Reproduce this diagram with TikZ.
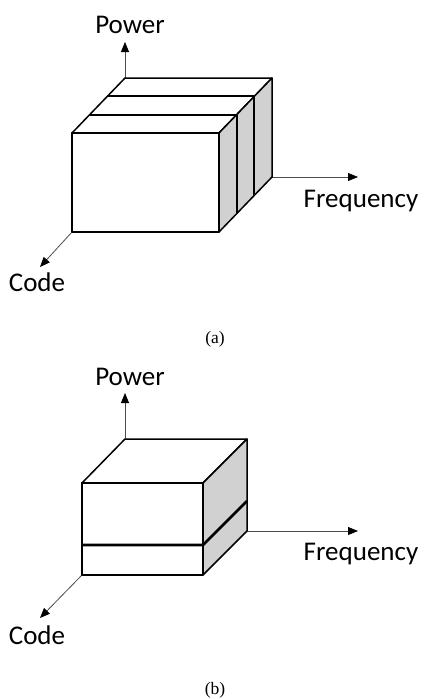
\documentclass[tikz,border=0pt]{standalone}
\usepackage{fontspec}
\setmainfont{Liberation Serif}
\newfontfamily\axisfont{Carlito}
\usetikzlibrary{arrows.meta}
\tikzset{
	edge/.style={line width=1.5pt, line join=round},
	side/.style={edge, fill=black!18},
	axis/.style={line width=0.8pt, color=black!70, -{Triangle[length=10pt, width=8pt, color=black]}},
	axislabel/.style={font=\axisfont\fontsize{27}{30}\selectfont, inner sep=0pt},
	caption/.style={font=\fontsize{17.5}{20}\selectfont, inner sep=0pt}
}

\begin{document}
\begin{tikzpicture}[x=1pt, y=1pt]
			%%%%% START %%%%%
			\useasboundingbox (0, 0) rectangle (426, -699);
			
			%%%%% (a) %%%%%
			\coordinate (a-ftl) at (72, -133);
			\coordinate (a-ftr) at (219, -133);
			\coordinate (a-fbl) at (72, -232);
			\coordinate (a-fbr) at (219, -232);
			\coordinate (a-btl) at (125, -78);
			\coordinate (a-btr) at (272, -78);
			\coordinate (a-bbr) at (272, -177);
			\coordinate (a-ptip) at (125, -42);
			\coordinate (a-ftip) at (358, -177);
			\coordinate (a-ctip) at (40, -267);
			
			\draw[axis] (a-btl) -- (a-ptip);
			\draw[axis] (a-bbr) -- (a-ftip);
			\draw[axis] (a-fbl) -- (a-ctip);
			
			\draw[edge, fill=white] (a-ftl) -- (a-btl) -- (a-btr) -- (a-ftr) -- cycle;
			\draw[side] (a-ftr) -- (a-btr) -- (a-bbr) -- (a-fbr) -- cycle;
			\draw[edge, fill=white] (a-ftl) rectangle (a-fbr);
			
			\draw[edge, line width=1.8pt] (89.7, -114.7) -- (236.7, -114.7) -- (236.7, -213.7);
			\draw[edge, line width=1.8pt] (107.3, -96.3) -- (254.3, -96.3) -- (254.3, -195.3);
			
			\node[axislabel] (a-power) at (130, -25) {Power};
			\node[axislabel] (a-freq) at (361, -201) {Frequency};
			\node[axislabel] (a-code) at (37, -282) {Code};
			\node[caption] (a-cap) at (215, -339) {(a)};
			
			%%%%% (b) %%%%%
			\coordinate (b-ftl) at (82, -483);
			\coordinate (b-ftr) at (203, -483);
			\coordinate (b-fbl) at (82, -575);
			\coordinate (b-fbr) at (203, -575);
			\coordinate (b-btl) at (125, -439);
			\coordinate (b-btr) at (247, -439);
			\coordinate (b-bbr) at (247, -531);
			\coordinate (b-ptip) at (125, -393);
			\coordinate (b-ftip) at (358, -531);
			\coordinate (b-ctip) at (40, -618);
			
			\draw[axis] (b-btl) -- (b-ptip);
			\draw[axis] (b-bbr) -- (b-ftip);
			\draw[axis] (b-fbl) -- (b-ctip);
			
			\draw[edge, fill=white] (b-ftl) -- (b-btl) -- (b-btr) -- (b-ftr) -- cycle;
			\draw[side] (b-ftr) -- (b-btr) -- (b-bbr) -- (b-fbr) -- cycle;
			\draw[edge, fill=white] (b-ftl) rectangle (b-fbr);
			
			\draw[line width=2.8pt] (82, -545) -- (203, -545) -- (247, -501);
			
			\node[axislabel] (b-power) at (130, -377) {Power};
			\node[axislabel] (b-freq) at (361, -554) {Frequency};
			\node[axislabel] (b-code) at (37, -635) {Code};
			\node[caption] (b-cap) at (215, -690) {(b)};
			
			%%%%% END %%%%%
\end{tikzpicture}
\end{document}
